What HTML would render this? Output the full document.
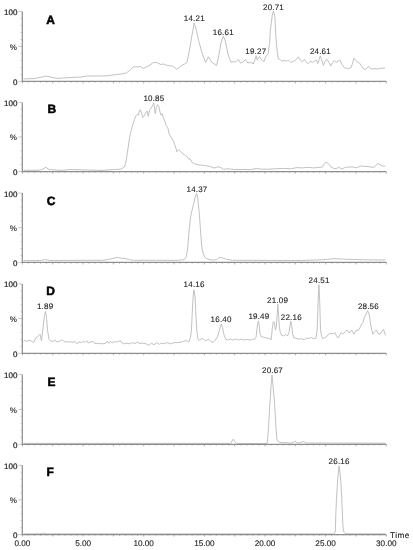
<!DOCTYPE html><html><head><meta charset="utf-8"><style>html,body{margin:0;padding:0;background:#fff;}svg{display:block;will-change:transform;}text{font-family:"Liberation Sans",sans-serif;text-rendering:geometricPrecision;} .t{stroke:#1e1e1e;stroke-width:0.12;} .a{stroke:#1e1e1e;stroke-width:0.22;}</style></head><body>
<svg width="413" height="550" viewBox="0 0 413 550">
<rect width="413" height="550" fill="#fff"/>
<polyline points="23.6,78.9 34.5,78.6 41.8,77.1 45.9,76.0 50.5,77.1 57.8,78.5 63.6,77.9 80.0,77.1 87.7,76.0 99.4,76.0 107.1,75.8 111.0,75.3 116.8,74.5 121.6,73.9 126.5,72.9 129.4,70.6 133.3,67.1 136.2,66.7 138.1,67.1 140.0,66.2 143.0,68.5 145.9,67.1 148.8,65.8 152.7,62.9 155.6,62.3 157.5,62.9 160.8,64.5 163.7,64.0 166.6,65.2 170.3,65.9 172.4,65.9 176.8,69.1 179.7,67.1 182.6,64.8 184.8,64.0 187.0,62.3 189.1,52.1 191.3,39.1 194.2,23.1 196.4,30.3 198.6,40.5 202.2,53.6 205.6,62.3 208.5,56.8 211.7,62.3 212.9,63.0 216.5,65.5 218.7,56.5 220.9,43.4 223.4,36.2 225.3,41.2 228.2,55.0 231.1,62.3 233.2,61.6 235.4,62.0 238.3,59.4 240.5,63.0 242.7,62.3 245.6,59.4 247.8,63.0 250.7,62.3 253.3,64.0 255.0,59.4 256.2,55.8 257.2,60.1 259.4,56.5 261.6,60.1 264.0,61.6 265.9,56.5 268.1,53.6 269.6,43.4 270.3,30.5 272.3,15.3 273.4,11.0 274.9,16.8 276.0,38.2 277.2,51.9 278.4,58.8 280.3,59.6 281.8,61.1 284.1,60.3 286.4,61.1 288.7,60.3 291.0,62.6 293.3,61.1 295.5,60.3 296.8,58.8 298.4,56.9 300.4,60.0 302.3,61.8 304.4,59.4 306.5,62.4 308.3,63.6 310.7,61.2 312.6,62.4 314.4,61.2 316.2,60.0 317.8,63.6 319.2,59.4 320.2,56.1 321.4,59.4 323.5,65.4 325.3,60.6 327.1,59.4 328.9,62.4 330.7,66.0 332.5,62.4 334.3,60.6 336.2,62.4 338.0,61.2 339.8,60.0 342.2,64.8 344.6,67.8 348.6,68.6 351.3,67.3 354.0,58.2 356.8,61.3 359.5,63.1 364.0,69.5 366.8,68.6 368.6,66.2 371.3,69.1 374.9,68.6 377.6,69.1 380.4,68.2 384.9,68.2" fill="none" stroke="#bababa" stroke-width="0.9" stroke-linejoin="round"/>
<path d="M28.46 81.40v1.6M34.53 81.40v1.6M40.59 81.40v1.6M46.66 81.40v1.6M58.79 81.40v1.6M64.86 81.40v1.6M70.92 81.40v1.6M76.98 81.40v1.6M89.12 81.40v1.6M95.18 81.40v1.6M101.25 81.40v1.6M107.31 81.40v1.6M119.44 81.40v1.6M125.50 81.40v1.6M131.57 81.40v1.6M137.64 81.40v1.6M149.77 81.40v1.6M155.83 81.40v1.6M161.90 81.40v1.6M167.96 81.40v1.6M180.09 81.40v1.6M186.16 81.40v1.6M192.22 81.40v1.6M198.29 81.40v1.6M210.42 81.40v1.6M216.48 81.40v1.6M222.55 81.40v1.6M228.61 81.40v1.6M240.74 81.40v1.6M246.81 81.40v1.6M252.87 81.40v1.6M258.94 81.40v1.6M271.06 81.40v1.6M277.13 81.40v1.6M283.19 81.40v1.6M289.26 81.40v1.6M301.39 81.40v1.6M307.45 81.40v1.6M313.52 81.40v1.6M319.58 81.40v1.6M331.71 81.40v1.6M337.78 81.40v1.6M343.84 81.40v1.6M349.91 81.40v1.6M362.04 81.40v1.6M368.11 81.40v1.6M374.17 81.40v1.6M380.24 81.40v1.6" fill="none" stroke="#c4c4c4" stroke-width="0.8"/>
<path d="M20.4 74.41H22.3M20.4 67.42H22.3M20.4 60.43H22.3M20.4 53.44H22.3M20.4 39.46H22.3M20.4 32.47H22.3M20.4 25.48H22.3M20.4 18.49H22.3" fill="none" stroke="#d4d4d4" stroke-width="0.9"/>
<path d="M18.3 81.40H22.3M18.3 46.45H22.3M18.3 11.50H22.3" fill="none" stroke="#c4c4c4" stroke-width="0.9"/>
<path d="M22.40 81.40v2.0M52.73 81.40v2.0M83.05 81.40v2.0M113.38 81.40v2.0M143.70 81.40v2.0M174.03 81.40v2.0M204.35 81.40v2.0M234.68 81.40v2.0M265.00 81.40v2.0M295.32 81.40v2.0M325.65 81.40v2.0M355.98 81.40v2.0M386.30 81.40v2.0" fill="none" stroke="#a0a0a0" stroke-width="0.9"/>
<path d="M22.30 11.50V81.40H386.30" fill="none" stroke="#8e8e8e" stroke-width="1.25"/>
<text class="a" x="17.4" y="14.9" font-size="8" fill="#1e1e1e" text-anchor="end">100</text>
<text class="a" x="17.4" y="84.6" font-size="8" fill="#1e1e1e" text-anchor="end">0</text>
<text class="t" x="16.8" y="49.6" font-size="8" fill="#1e1e1e" text-anchor="end">%</text>
<text x="46.2" y="23.6" font-size="12" font-weight="bold" fill="#000" stroke="#000" stroke-width="0.5">A</text>
<text class="t" x="194.3" y="21.0" font-size="8" letter-spacing="0.2" fill="#1e1e1e" text-anchor="middle">14.21</text>
<text class="t" x="223.3" y="35.0" font-size="8" letter-spacing="0.2" fill="#1e1e1e" text-anchor="middle">16.61</text>
<text class="t" x="255.8" y="53.6" font-size="8" letter-spacing="0.2" fill="#1e1e1e" text-anchor="middle">19.27</text>
<text class="t" x="273.5" y="9.9" font-size="8" letter-spacing="0.2" fill="#1e1e1e" text-anchor="middle">20.71</text>
<text class="t" x="320.4" y="54.3" font-size="8" letter-spacing="0.2" fill="#1e1e1e" text-anchor="middle">24.61</text>
<polyline points="23.6,170.3 38.0,170.3 41.8,169.5 45.9,167.3 49.0,169.5 57.8,170.1 63.6,170.3 70.8,169.5 80.0,169.8 101.8,170.4 113.5,169.5 120.8,169.2 124.4,167.0 125.9,162.0 127.3,153.2 128.8,143.0 130.2,134.3 131.7,128.5 132.8,124.8 134.4,119.5 136.0,115.8 137.6,114.2 138.4,115.2 139.5,110.4 140.6,109.9 141.6,113.6 142.7,117.4 144.0,116.3 145.6,113.1 147.2,111.0 148.2,116.3 149.8,109.9 151.4,107.8 153.0,104.6 153.8,103.0 154.4,106.7 155.2,113.6 156.2,107.8 157.6,104.6 158.9,106.7 160.0,112.0 161.0,115.2 162.1,113.6 163.2,117.4 164.8,121.1 165.8,124.8 167.8,127.8 169.3,134.3 171.5,137.9 173.7,141.6 175.9,148.1 176.9,151.8 178.8,149.6 180.9,151.8 183.1,154.0 185.3,155.4 186.9,156.5 188.9,159.4 189.8,158.4 191.8,162.3 194.7,163.8 198.6,164.8 202.4,165.2 206.3,165.8 210.2,166.5 214.1,168.1 217.9,166.7 221.8,168.1 223.7,169.5 226.6,168.7 230.5,169.1 234.4,169.5 243.1,169.5 250.9,169.5 256.7,168.5 260.6,169.1 267.9,169.2 275.7,168.8 283.6,168.4 291.5,168.8 296.2,167.6 302.5,167.9 307.2,167.3 313.5,167.9 319.8,167.3 322.5,167.0 324.2,163.6 325.9,162.2 328.5,163.6 331.0,167.0 333.6,168.3 336.1,168.6 338.6,167.3 342.0,169.0 345.4,167.3 349.7,167.0 353.9,167.0 356.4,167.8 360.7,166.1 365.8,166.4 370.8,167.0 374.2,167.3 377.6,163.6 380.2,164.9 382.7,166.1 385.3,166.1" fill="none" stroke="#bababa" stroke-width="0.9" stroke-linejoin="round"/>
<path d="M28.46 171.60v1.6M34.53 171.60v1.6M40.59 171.60v1.6M46.66 171.60v1.6M58.79 171.60v1.6M64.86 171.60v1.6M70.92 171.60v1.6M76.98 171.60v1.6M89.12 171.60v1.6M95.18 171.60v1.6M101.25 171.60v1.6M107.31 171.60v1.6M119.44 171.60v1.6M125.50 171.60v1.6M131.57 171.60v1.6M137.64 171.60v1.6M149.77 171.60v1.6M155.83 171.60v1.6M161.90 171.60v1.6M167.96 171.60v1.6M180.09 171.60v1.6M186.16 171.60v1.6M192.22 171.60v1.6M198.29 171.60v1.6M210.42 171.60v1.6M216.48 171.60v1.6M222.55 171.60v1.6M228.61 171.60v1.6M240.74 171.60v1.6M246.81 171.60v1.6M252.87 171.60v1.6M258.94 171.60v1.6M271.06 171.60v1.6M277.13 171.60v1.6M283.19 171.60v1.6M289.26 171.60v1.6M301.39 171.60v1.6M307.45 171.60v1.6M313.52 171.60v1.6M319.58 171.60v1.6M331.71 171.60v1.6M337.78 171.60v1.6M343.84 171.60v1.6M349.91 171.60v1.6M362.04 171.60v1.6M368.11 171.60v1.6M374.17 171.60v1.6M380.24 171.60v1.6" fill="none" stroke="#c4c4c4" stroke-width="0.8"/>
<path d="M20.4 164.68H22.3M20.4 157.76H22.3M20.4 150.84H22.3M20.4 143.92H22.3M20.4 130.08H22.3M20.4 123.16H22.3M20.4 116.24H22.3M20.4 109.32H22.3" fill="none" stroke="#d4d4d4" stroke-width="0.9"/>
<path d="M18.3 171.60H22.3M18.3 137.00H22.3M18.3 102.40H22.3" fill="none" stroke="#c4c4c4" stroke-width="0.9"/>
<path d="M22.40 171.60v2.0M52.73 171.60v2.0M83.05 171.60v2.0M113.38 171.60v2.0M143.70 171.60v2.0M174.03 171.60v2.0M204.35 171.60v2.0M234.68 171.60v2.0M265.00 171.60v2.0M295.32 171.60v2.0M325.65 171.60v2.0M355.98 171.60v2.0M386.30 171.60v2.0" fill="none" stroke="#a0a0a0" stroke-width="0.9"/>
<path d="M22.30 102.40V171.60H386.30" fill="none" stroke="#8e8e8e" stroke-width="1.25"/>
<text class="a" x="17.4" y="105.8" font-size="8" fill="#1e1e1e" text-anchor="end">100</text>
<text class="a" x="17.4" y="174.8" font-size="8" fill="#1e1e1e" text-anchor="end">0</text>
<text class="t" x="16.8" y="140.1" font-size="8" fill="#1e1e1e" text-anchor="end">%</text>
<text x="47.5" y="112.9" font-size="12" font-weight="bold" fill="#000" stroke="#000" stroke-width="0.5">B</text>
<text class="t" x="153.9" y="100.8" font-size="8" letter-spacing="0.2" fill="#1e1e1e" text-anchor="middle">10.85</text>
<polyline points="23.6,260.6 40.0,260.5 45.2,259.6 50.0,260.5 90.0,260.3 103.0,260.3 109.6,259.2 114.0,258.1 117.2,257.4 120.5,258.1 124.9,258.5 129.2,259.6 133.6,260.3 155.4,260.3 175.0,260.4 182.8,259.9 184.3,259.5 186.3,256.8 187.6,248.9 188.9,233.2 190.2,220.1 191.5,212.3 193.5,204.4 195.0,197.9 196.5,193.3 197.7,197.9 198.7,207.0 199.8,220.1 200.7,233.2 201.6,245.0 202.6,251.5 204.6,256.8 207.2,258.8 210.5,259.8 213.3,260.0 216.4,259.7 219.5,257.3 221.9,257.7 226.2,259.3 232.3,260.3 300.0,260.5 321.8,259.8 334.9,258.7 343.6,259.2 365.4,259.8 385.5,260.0" fill="none" stroke="#bababa" stroke-width="0.9" stroke-linejoin="round"/>
<path d="M28.46 262.40v1.6M34.53 262.40v1.6M40.59 262.40v1.6M46.66 262.40v1.6M58.79 262.40v1.6M64.86 262.40v1.6M70.92 262.40v1.6M76.98 262.40v1.6M89.12 262.40v1.6M95.18 262.40v1.6M101.25 262.40v1.6M107.31 262.40v1.6M119.44 262.40v1.6M125.50 262.40v1.6M131.57 262.40v1.6M137.64 262.40v1.6M149.77 262.40v1.6M155.83 262.40v1.6M161.90 262.40v1.6M167.96 262.40v1.6M180.09 262.40v1.6M186.16 262.40v1.6M192.22 262.40v1.6M198.29 262.40v1.6M210.42 262.40v1.6M216.48 262.40v1.6M222.55 262.40v1.6M228.61 262.40v1.6M240.74 262.40v1.6M246.81 262.40v1.6M252.87 262.40v1.6M258.94 262.40v1.6M271.06 262.40v1.6M277.13 262.40v1.6M283.19 262.40v1.6M289.26 262.40v1.6M301.39 262.40v1.6M307.45 262.40v1.6M313.52 262.40v1.6M319.58 262.40v1.6M331.71 262.40v1.6M337.78 262.40v1.6M343.84 262.40v1.6M349.91 262.40v1.6M362.04 262.40v1.6M368.11 262.40v1.6M374.17 262.40v1.6M380.24 262.40v1.6" fill="none" stroke="#c4c4c4" stroke-width="0.8"/>
<path d="M20.4 255.47H22.3M20.4 248.54H22.3M20.4 241.61H22.3M20.4 234.68H22.3M20.4 220.82H22.3M20.4 213.89H22.3M20.4 206.96H22.3M20.4 200.03H22.3" fill="none" stroke="#d4d4d4" stroke-width="0.9"/>
<path d="M18.3 262.40H22.3M18.3 227.75H22.3M18.3 193.10H22.3" fill="none" stroke="#c4c4c4" stroke-width="0.9"/>
<path d="M22.40 262.40v2.0M52.73 262.40v2.0M83.05 262.40v2.0M113.38 262.40v2.0M143.70 262.40v2.0M174.03 262.40v2.0M204.35 262.40v2.0M234.68 262.40v2.0M265.00 262.40v2.0M295.32 262.40v2.0M325.65 262.40v2.0M355.98 262.40v2.0M386.30 262.40v2.0" fill="none" stroke="#a0a0a0" stroke-width="0.9"/>
<path d="M22.30 193.10V262.40H386.30" fill="none" stroke="#8e8e8e" stroke-width="1.25"/>
<text class="a" x="17.4" y="196.5" font-size="8" fill="#1e1e1e" text-anchor="end">100</text>
<text class="a" x="17.4" y="265.6" font-size="8" fill="#1e1e1e" text-anchor="end">0</text>
<text class="t" x="16.8" y="230.8" font-size="8" fill="#1e1e1e" text-anchor="end">%</text>
<text x="46.7" y="205.4" font-size="12" font-weight="bold" fill="#000" stroke="#000" stroke-width="0.5">C</text>
<text class="t" x="197.0" y="191.7" font-size="8" letter-spacing="0.2" fill="#1e1e1e" text-anchor="middle">14.37</text>
<polyline points="23.6,341.6 25.1,340.1 27.0,341.6 29.0,340.1 31.3,341.1 33.8,342.3 35.7,337.9 37.4,337.2 38.6,335.8 40.0,334.3 41.5,340.9 43.0,327.8 44.4,316.2 45.4,311.5 46.4,316.2 47.6,330.7 49.1,339.4 50.5,340.9 52.7,341.6 54.9,340.1 57.0,342.0 59.2,341.6 61.4,340.1 62.4,340.2 64.7,341.8 69.4,341.8 73.4,342.3 75.0,341.3 77.0,343.8 78.9,341.8 81.2,342.6 83.3,341.3 85.2,342.3 86.8,340.7 88.3,342.9 90.7,341.8 93.0,341.3 94.6,343.4 97.8,343.4 102.5,343.8 105.6,343.4 107.2,341.3 108.8,343.4 110.4,341.3 111.9,342.9 114.3,341.8 117.4,341.8 120.6,340.7 121.7,342.6 124.4,343.9 127.0,343.1 129.6,343.9 132.2,342.6 134.8,343.6 137.4,342.2 140.0,343.6 142.7,343.1 146.2,343.9 148.8,345.3 151.4,343.1 154.0,344.8 156.6,342.6 159.2,344.3 161.8,343.1 164.5,343.6 167.1,342.6 170.6,343.9 174.0,342.6 177.5,342.6 181.0,342.2 183.6,341.3 186.2,340.5 188.9,341.9 190.4,337.5 191.4,330.8 192.2,313.9 193.1,296.9 193.9,289.8 195.1,296.9 195.9,313.9 196.8,330.8 198.0,339.3 199.7,340.2 202.2,338.5 203.6,339.2 205.8,340.7 208.7,339.2 210.9,341.4 213.1,342.4 215.3,340.0 217.4,337.0 218.9,332.0 220.3,326.9 221.4,324.0 222.5,327.6 224.0,334.9 225.9,339.5 228.3,340.0 230.5,338.9 232.7,340.0 235.6,338.9 238.5,340.0 241.4,339.2 244.3,340.0 247.2,339.5 250.1,340.0 252.4,339.6 254.8,339.0 256.1,337.2 257.0,328.7 257.9,322.7 258.5,320.9 259.2,325.1 259.9,333.6 261.1,336.6 263.3,337.2 265.7,337.8 268.8,338.4 271.2,339.6 272.0,331.2 273.0,322.7 274.0,321.5 274.8,325.1 275.4,330.0 276.4,326.3 277.2,314.2 277.8,304.3 278.5,314.2 279.3,326.3 280.3,332.4 281.7,335.4 283.9,336.0 285.7,334.2 287.5,336.0 289.0,332.4 290.0,326.3 290.8,321.2 291.8,326.3 292.6,333.6 293.8,337.8 296.0,338.2 298.1,339.1 301.3,338.8 304.4,339.5 306.7,338.0 309.1,338.4 311.4,337.5 313.8,338.8 316.1,338.0 317.2,329.4 318.1,301.3 318.9,284.8 319.7,301.3 320.5,329.4 321.6,336.4 322.8,338.8 324.7,337.5 327.0,336.4 328.6,334.1 330.9,333.3 333.3,334.1 334.8,332.5 336.4,335.6 338.0,338.0 339.5,335.6 341.2,332.4 343.0,334.2 345.4,331.8 347.3,330.0 349.1,333.0 351.5,330.0 353.9,334.2 356.3,330.0 358.2,330.6 360.0,327.5 361.8,323.9 363.0,322.7 364.2,317.8 366.0,314.2 367.6,310.6 369.1,314.2 370.3,321.5 371.7,330.0 372.9,334.2 374.5,331.8 376.3,330.0 378.1,333.6 380.0,334.2 381.8,331.2 383.6,329.3 385.4,335.4" fill="none" stroke="#bababa" stroke-width="0.9" stroke-linejoin="round"/>
<path d="M28.46 353.30v1.6M34.53 353.30v1.6M40.59 353.30v1.6M46.66 353.30v1.6M58.79 353.30v1.6M64.86 353.30v1.6M70.92 353.30v1.6M76.98 353.30v1.6M89.12 353.30v1.6M95.18 353.30v1.6M101.25 353.30v1.6M107.31 353.30v1.6M119.44 353.30v1.6M125.50 353.30v1.6M131.57 353.30v1.6M137.64 353.30v1.6M149.77 353.30v1.6M155.83 353.30v1.6M161.90 353.30v1.6M167.96 353.30v1.6M180.09 353.30v1.6M186.16 353.30v1.6M192.22 353.30v1.6M198.29 353.30v1.6M210.42 353.30v1.6M216.48 353.30v1.6M222.55 353.30v1.6M228.61 353.30v1.6M240.74 353.30v1.6M246.81 353.30v1.6M252.87 353.30v1.6M258.94 353.30v1.6M271.06 353.30v1.6M277.13 353.30v1.6M283.19 353.30v1.6M289.26 353.30v1.6M301.39 353.30v1.6M307.45 353.30v1.6M313.52 353.30v1.6M319.58 353.30v1.6M331.71 353.30v1.6M337.78 353.30v1.6M343.84 353.30v1.6M349.91 353.30v1.6M362.04 353.30v1.6M368.11 353.30v1.6M374.17 353.30v1.6M380.24 353.30v1.6" fill="none" stroke="#c4c4c4" stroke-width="0.8"/>
<path d="M20.4 346.36H22.3M20.4 339.42H22.3M20.4 332.48H22.3M20.4 325.54H22.3M20.4 311.66H22.3M20.4 304.72H22.3M20.4 297.78H22.3M20.4 290.84H22.3" fill="none" stroke="#d4d4d4" stroke-width="0.9"/>
<path d="M18.3 353.30H22.3M18.3 318.60H22.3M18.3 283.90H22.3" fill="none" stroke="#c4c4c4" stroke-width="0.9"/>
<path d="M22.40 353.30v2.0M52.73 353.30v2.0M83.05 353.30v2.0M113.38 353.30v2.0M143.70 353.30v2.0M174.03 353.30v2.0M204.35 353.30v2.0M234.68 353.30v2.0M265.00 353.30v2.0M295.32 353.30v2.0M325.65 353.30v2.0M355.98 353.30v2.0M386.30 353.30v2.0" fill="none" stroke="#a0a0a0" stroke-width="0.9"/>
<path d="M22.30 283.90V353.30H386.30" fill="none" stroke="#8e8e8e" stroke-width="1.25"/>
<text class="a" x="17.4" y="287.3" font-size="8" fill="#1e1e1e" text-anchor="end">100</text>
<text class="a" x="17.4" y="356.5" font-size="8" fill="#1e1e1e" text-anchor="end">0</text>
<text class="t" x="16.8" y="321.7" font-size="8" fill="#1e1e1e" text-anchor="end">%</text>
<text x="46.3" y="294.7" font-size="12" font-weight="bold" fill="#000" stroke="#000" stroke-width="0.5">D</text>
<text class="t" x="45.1" y="308.9" font-size="8" letter-spacing="0.2" fill="#1e1e1e" text-anchor="middle">1.89</text>
<text class="t" x="194.1" y="287.1" font-size="8" letter-spacing="0.2" fill="#1e1e1e" text-anchor="middle">14.16</text>
<text class="t" x="221.1" y="322.1" font-size="8" letter-spacing="0.2" fill="#1e1e1e" text-anchor="middle">16.40</text>
<text class="t" x="258.9" y="319.1" font-size="8" letter-spacing="0.2" fill="#1e1e1e" text-anchor="middle">19.49</text>
<text class="t" x="277.6" y="302.7" font-size="8" letter-spacing="0.2" fill="#1e1e1e" text-anchor="middle">21.09</text>
<text class="t" x="291.3" y="319.7" font-size="8" letter-spacing="0.2" fill="#1e1e1e" text-anchor="middle">22.16</text>
<text class="t" x="319.1" y="282.5" font-size="8" letter-spacing="0.2" fill="#1e1e1e" text-anchor="middle">24.51</text>
<text class="t" x="368.4" y="309.1" font-size="8" letter-spacing="0.2" fill="#1e1e1e" text-anchor="middle">28.56</text>
<polyline points="23.6,443.4 230.7,443.4 232.0,441.0 233.2,439.1 234.5,441.4 236.5,443.4 266.9,443.6 267.6,440.0 268.2,432.0 268.6,425.3 269.5,410.0 270.3,397.7 271.2,384.0 272.0,375.3 272.9,384.0 273.6,393.0 274.2,397.7 275.1,412.0 275.8,425.3 276.5,434.0 276.9,439.2 277.8,441.3 279.3,442.2 282.0,442.6 287.8,442.8 290.7,443.2 293.6,442.3 295.1,441.4 297.1,442.9 300.5,442.6 303.3,441.5 306.0,443.0 385.5,443.2" fill="none" stroke="#bababa" stroke-width="0.9" stroke-linejoin="round"/>
<path d="M28.46 444.30v1.6M34.53 444.30v1.6M40.59 444.30v1.6M46.66 444.30v1.6M58.79 444.30v1.6M64.86 444.30v1.6M70.92 444.30v1.6M76.98 444.30v1.6M89.12 444.30v1.6M95.18 444.30v1.6M101.25 444.30v1.6M107.31 444.30v1.6M119.44 444.30v1.6M125.50 444.30v1.6M131.57 444.30v1.6M137.64 444.30v1.6M149.77 444.30v1.6M155.83 444.30v1.6M161.90 444.30v1.6M167.96 444.30v1.6M180.09 444.30v1.6M186.16 444.30v1.6M192.22 444.30v1.6M198.29 444.30v1.6M210.42 444.30v1.6M216.48 444.30v1.6M222.55 444.30v1.6M228.61 444.30v1.6M240.74 444.30v1.6M246.81 444.30v1.6M252.87 444.30v1.6M258.94 444.30v1.6M271.06 444.30v1.6M277.13 444.30v1.6M283.19 444.30v1.6M289.26 444.30v1.6M301.39 444.30v1.6M307.45 444.30v1.6M313.52 444.30v1.6M319.58 444.30v1.6M331.71 444.30v1.6M337.78 444.30v1.6M343.84 444.30v1.6M349.91 444.30v1.6M362.04 444.30v1.6M368.11 444.30v1.6M374.17 444.30v1.6M380.24 444.30v1.6" fill="none" stroke="#c4c4c4" stroke-width="0.8"/>
<path d="M20.4 437.31H22.3M20.4 430.32H22.3M20.4 423.33H22.3M20.4 416.34H22.3M20.4 402.36H22.3M20.4 395.37H22.3M20.4 388.38H22.3M20.4 381.39H22.3" fill="none" stroke="#d4d4d4" stroke-width="0.9"/>
<path d="M18.3 444.30H22.3M18.3 409.35H22.3M18.3 374.40H22.3" fill="none" stroke="#c4c4c4" stroke-width="0.9"/>
<path d="M22.40 444.30v2.0M52.73 444.30v2.0M83.05 444.30v2.0M113.38 444.30v2.0M143.70 444.30v2.0M174.03 444.30v2.0M204.35 444.30v2.0M234.68 444.30v2.0M265.00 444.30v2.0M295.32 444.30v2.0M325.65 444.30v2.0M355.98 444.30v2.0M386.30 444.30v2.0" fill="none" stroke="#a0a0a0" stroke-width="0.9"/>
<path d="M22.30 374.40V444.30H386.30" fill="none" stroke="#8e8e8e" stroke-width="1.25"/>
<text class="a" x="17.4" y="377.8" font-size="8" fill="#1e1e1e" text-anchor="end">100</text>
<text class="a" x="17.4" y="447.5" font-size="8" fill="#1e1e1e" text-anchor="end">0</text>
<text class="t" x="16.8" y="412.5" font-size="8" fill="#1e1e1e" text-anchor="end">%</text>
<text x="47.6" y="385.8" font-size="12" font-weight="bold" fill="#000" stroke="#000" stroke-width="0.5">E</text>
<text class="t" x="272.5" y="373.3" font-size="8" letter-spacing="0.2" fill="#1e1e1e" text-anchor="middle">20.67</text>
<polyline points="23.6,533.9 40.0,533.8 43.3,533.2 46.5,533.8 333.5,533.9 334.6,533.3 335.3,531.0 335.9,512.0 336.5,498.4 337.7,480.2 338.5,471.0 339.1,466.0 339.8,471.0 340.7,480.2 341.8,498.4 342.3,512.0 343.0,526.0 343.5,531.0 344.5,532.8 346.0,533.5 348.0,533.8 385.5,533.8" fill="none" stroke="#bababa" stroke-width="0.9" stroke-linejoin="round"/>
<path d="M28.46 534.50v1.6M34.53 534.50v1.6M40.59 534.50v1.6M46.66 534.50v1.6M58.79 534.50v1.6M64.86 534.50v1.6M70.92 534.50v1.6M76.98 534.50v1.6M89.12 534.50v1.6M95.18 534.50v1.6M101.25 534.50v1.6M107.31 534.50v1.6M119.44 534.50v1.6M125.50 534.50v1.6M131.57 534.50v1.6M137.64 534.50v1.6M149.77 534.50v1.6M155.83 534.50v1.6M161.90 534.50v1.6M167.96 534.50v1.6M180.09 534.50v1.6M186.16 534.50v1.6M192.22 534.50v1.6M198.29 534.50v1.6M210.42 534.50v1.6M216.48 534.50v1.6M222.55 534.50v1.6M228.61 534.50v1.6M240.74 534.50v1.6M246.81 534.50v1.6M252.87 534.50v1.6M258.94 534.50v1.6M271.06 534.50v1.6M277.13 534.50v1.6M283.19 534.50v1.6M289.26 534.50v1.6M301.39 534.50v1.6M307.45 534.50v1.6M313.52 534.50v1.6M319.58 534.50v1.6M331.71 534.50v1.6M337.78 534.50v1.6M343.84 534.50v1.6M349.91 534.50v1.6M362.04 534.50v1.6M368.11 534.50v1.6M374.17 534.50v1.6M380.24 534.50v1.6" fill="none" stroke="#c4c4c4" stroke-width="0.8"/>
<path d="M20.4 527.58H22.3M20.4 520.66H22.3M20.4 513.74H22.3M20.4 506.82H22.3M20.4 492.98H22.3M20.4 486.06H22.3M20.4 479.14H22.3M20.4 472.22H22.3" fill="none" stroke="#d4d4d4" stroke-width="0.9"/>
<path d="M18.3 534.50H22.3M18.3 499.90H22.3M18.3 465.30H22.3" fill="none" stroke="#c4c4c4" stroke-width="0.9"/>
<path d="M22.40 534.50v2.0M52.73 534.50v2.0M83.05 534.50v2.0M113.38 534.50v2.0M143.70 534.50v2.0M174.03 534.50v2.0M204.35 534.50v2.0M234.68 534.50v2.0M265.00 534.50v2.0M295.32 534.50v2.0M325.65 534.50v2.0M355.98 534.50v2.0M386.30 534.50v2.0" fill="none" stroke="#a0a0a0" stroke-width="0.9"/>
<path d="M22.30 465.30V534.50H386.30" fill="none" stroke="#8e8e8e" stroke-width="1.25"/>
<text class="a" x="17.4" y="468.7" font-size="8" fill="#1e1e1e" text-anchor="end">100</text>
<text class="a" x="17.4" y="537.7" font-size="8" fill="#1e1e1e" text-anchor="end">0</text>
<text class="t" x="16.8" y="503.0" font-size="8" fill="#1e1e1e" text-anchor="end">%</text>
<text x="46.6" y="475.8" font-size="12" font-weight="bold" fill="#000" stroke="#000" stroke-width="0.5">F</text>
<text class="t" x="339.1" y="464.0" font-size="8" letter-spacing="0.2" fill="#1e1e1e" text-anchor="middle">26.16</text>
<text class="t" x="22.4" y="545.6" font-size="8.2" fill="#1e1e1e" text-anchor="middle">0.00</text>
<text class="t" x="83.1" y="545.6" font-size="8.2" fill="#1e1e1e" text-anchor="middle">5.00</text>
<text class="t" x="143.7" y="545.6" font-size="8.2" fill="#1e1e1e" text-anchor="middle">10.00</text>
<text class="t" x="204.4" y="545.6" font-size="8.2" fill="#1e1e1e" text-anchor="middle">15.00</text>
<text class="t" x="265.0" y="545.6" font-size="8.2" fill="#1e1e1e" text-anchor="middle">20.00</text>
<text class="t" x="325.6" y="545.6" font-size="8.2" fill="#1e1e1e" text-anchor="middle">25.00</text>
<text class="t" x="386.3" y="545.6" font-size="8.2" fill="#1e1e1e" text-anchor="middle">30.00</text>
<text class="t" x="390" y="537.7" font-size="8.2" letter-spacing="0.45" fill="#1e1e1e">Time</text>
</svg></body></html>
